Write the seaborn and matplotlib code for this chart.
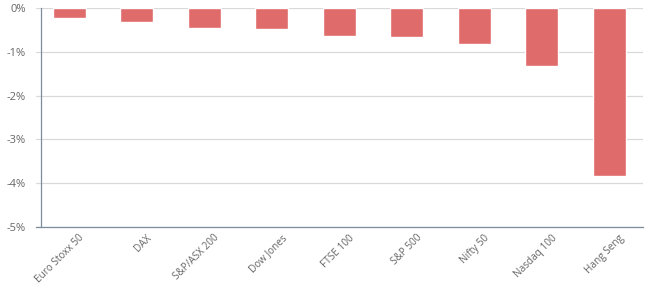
import matplotlib
matplotlib.use("Agg")
import matplotlib.pyplot as plt
import matplotlib.transforms as mtransforms
import seaborn as sns
import pandas as pd
import numpy as np

categories = ["Euro Stoxx 50", "DAX", "S&P/ASX 200", "Dow Jones", "FTSE 100",
              "S&P 500", "Nifty 50", "Nasdaq 100", "Hang Seng"]
values = [-0.22, -0.31, -0.45, -0.48, -0.64, -0.66, -0.83, -1.32, -3.83]
y_ticks = [0, -1, -2, -3, -4, -5]
y_tick_labels = ["0%", "-1%", "-2%", "-3%", "-4%", "-5%"]

sns.set_theme(style="white")
plt.rcParams["font.family"] = ["Open Sans", "DejaVu Sans"]

TEXT = "#666666"
AXIS = "#7b8c9c"
GRID = "#d9d9d9"
BAR = "#e06b6b"

df = pd.DataFrame({"index": categories, "change": values})

fig = plt.figure(figsize=(6.5, 2.98), dpi=100)
ax = fig.add_axes([35.5 / 650, 1 - 227 / 298, (643 - 35.5) / 650, (227 - 8) / 298])

sns.barplot(data=df, x="index", y="change", color=BAR, saturation=1,
            width=0.49, ax=ax, order=categories)

ax.set_xlim(-0.5, len(categories) - 0.5)
ax.set_ylim(-5, 0)
ax.set_xlabel("")
ax.set_ylabel("")

ax.set_yticks(y_ticks)
ax.set_yticklabels(y_tick_labels)
ax.tick_params(axis="y", length=0, pad=11, labelsize=8, labelcolor=TEXT)

ax.set_axisbelow(True)
ax.yaxis.grid(True, color=GRID, linewidth=0.9)
ax.xaxis.grid(False)

for s in ["top", "right"]:
    ax.spines[s].set_visible(False)
ax.spines["left"].set_color(AXIS)
ax.spines["bottom"].set_color(AXIS)
ax.spines["left"].set_linewidth(0.9)
ax.spines["bottom"].set_linewidth(0.9)
ax.spines["left"].set_position(("data", -0.5 + 5.5 / 67.5))

ax.set_xticks(range(len(categories)))
ax.set_xticks(np.arange(-0.5, len(categories), 1.0), minor=True)
ax.tick_params(axis="x", which="major", length=0, labelsize=7.2, labelcolor=TEXT)
ax.tick_params(axis="x", which="minor", length=4, width=0.9, color=AXIS, direction="out")
ax.set_xticklabels(categories)
offset = mtransforms.ScaledTranslation(13.5 / 100, -4.6 / 100, fig.dpi_scale_trans)
for lab in ax.get_xticklabels():
    lab.set_rotation(45)
    lab.set_rotation_mode("anchor")
    lab.set_ha("right")
    lab.set_va("center")
    lab.set_transform(lab.get_transform() + offset)

fig.savefig("out.png", dpi=100)
